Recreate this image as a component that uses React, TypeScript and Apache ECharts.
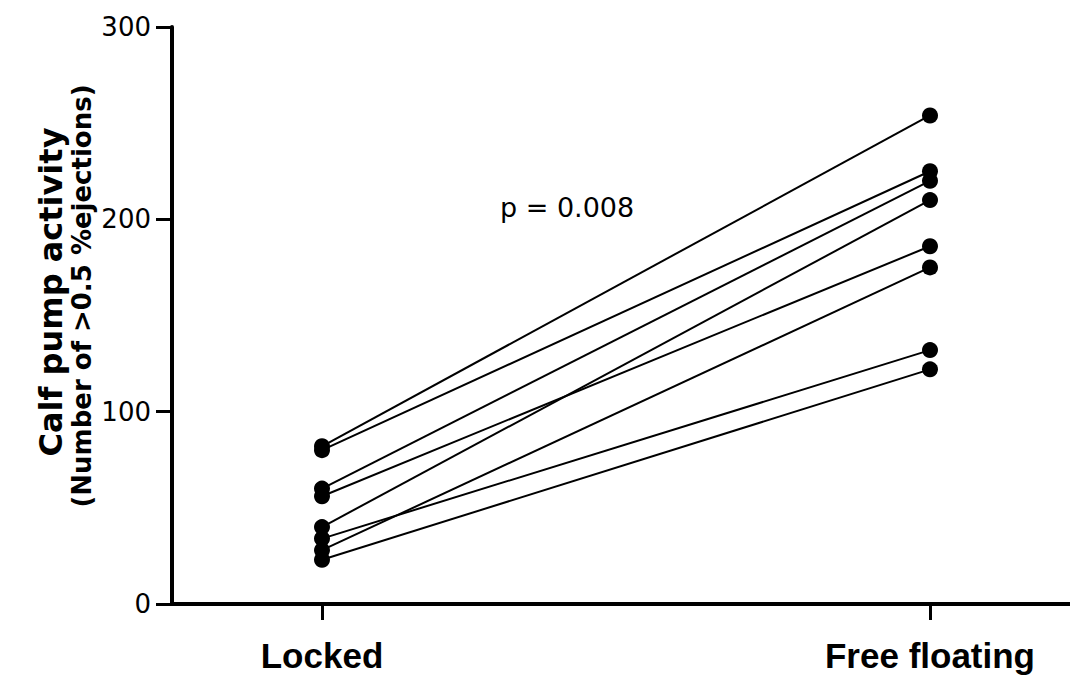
import React, { useEffect, useRef } from "react";
import * as echarts from "echarts";

const conditions = ["Locked", "Free floating"];
const lockedValues = [82, 80, 60, 56, 40, 34, 28, 23];
const freeValues = [254, 225, 220, 186, 210, 132, 175, 122];
const yTicks = [0, 100, 200, 300];
const yTitle = "Calf pump activity";
const ySubTitle = "(Number of >0.5 %ejections)";
const pValueText = "p = 0.008";

export default function App() {
  const ref = useRef<HTMLDivElement>(null);
  useEffect(() => {
    if (!ref.current) return;
    const chart = echarts.init(ref.current, null, { renderer: "svg" });
    const series = lockedValues.map((v, i) => ({
      type: "line",
      data: [
        [1, v],
        [2, freeValues[i]],
      ],
      symbol: "circle",
      symbolSize: 16,
      lineStyle: { color: "#000", width: 2 },
      itemStyle: { color: "#000" },
      z: 3,
    }));
    chart.setOption({
      animation: false,
      grid: { left: 172, right: 0, top: 27, bottom: 71, containLabel: false },
      xAxis: {
        type: "value",
        min: 1 - 150 / 608,
        max: 2 + 140 / 608,
        splitLine: { show: false },
        axisLine: { show: true, lineStyle: { color: "#000", width: 4 } },
        axisTick: {
          show: true,
          customValues: [1, 2],
          length: 16,
          lineStyle: { color: "#000", width: 3 },
        },
        axisLabel: {
          customValues: [1, 2],
          formatter: (v: number) => conditions[Math.round(v) - 1] ?? "",
          fontFamily: "Liberation Sans",
          fontWeight: "bold",
          fontSize: 35,
          color: "#000",
          margin: 34,
        },
      },
      yAxis: {
        type: "value",
        min: yTicks[0],
        max: yTicks[yTicks.length - 1],
        interval: 100,
        splitLine: { show: false },
        axisLine: { show: true, lineStyle: { color: "#000", width: 4 } },
        axisTick: { show: true, length: 16, lineStyle: { color: "#000", width: 3 } },
        axisLabel: {
          fontFamily: "DejaVu Sans",
          fontSize: 26,
          color: "#000",
          margin: 21,
        },
      },
      graphic: [
        {
          type: "text",
          x: 51,
          y: 292,
          rotation: Math.PI / 2,
          style: {
            text: yTitle,
            fontFamily: "DejaVu Sans",
            fontWeight: "bold",
            fontSize: 32,
            fill: "#000",
            align: "center",
            verticalAlign: "middle",
          },
        },
        {
          type: "text",
          x: 82,
          y: 296,
          rotation: Math.PI / 2,
          style: {
            text: ySubTitle,
            fontFamily: "DejaVu Sans",
            fontWeight: "bold",
            fontSize: 26,
            fill: "#000",
            align: "center",
            verticalAlign: "middle",
          },
        },
        {
          type: "text",
          left: 500,
          top: 194,
          style: {
            text: pValueText,
            fontFamily: "DejaVu Sans",
            fontSize: 27,
            fill: "#000",
          },
        },
      ],
      series,
    });
    return () => chart.dispose();
  }, []);
  return (
    <div
      ref={ref}
      style={{ position: "fixed", left: 0, top: 0, width: 1070, height: 675, background: "#fff" }}
    />
  );
}
